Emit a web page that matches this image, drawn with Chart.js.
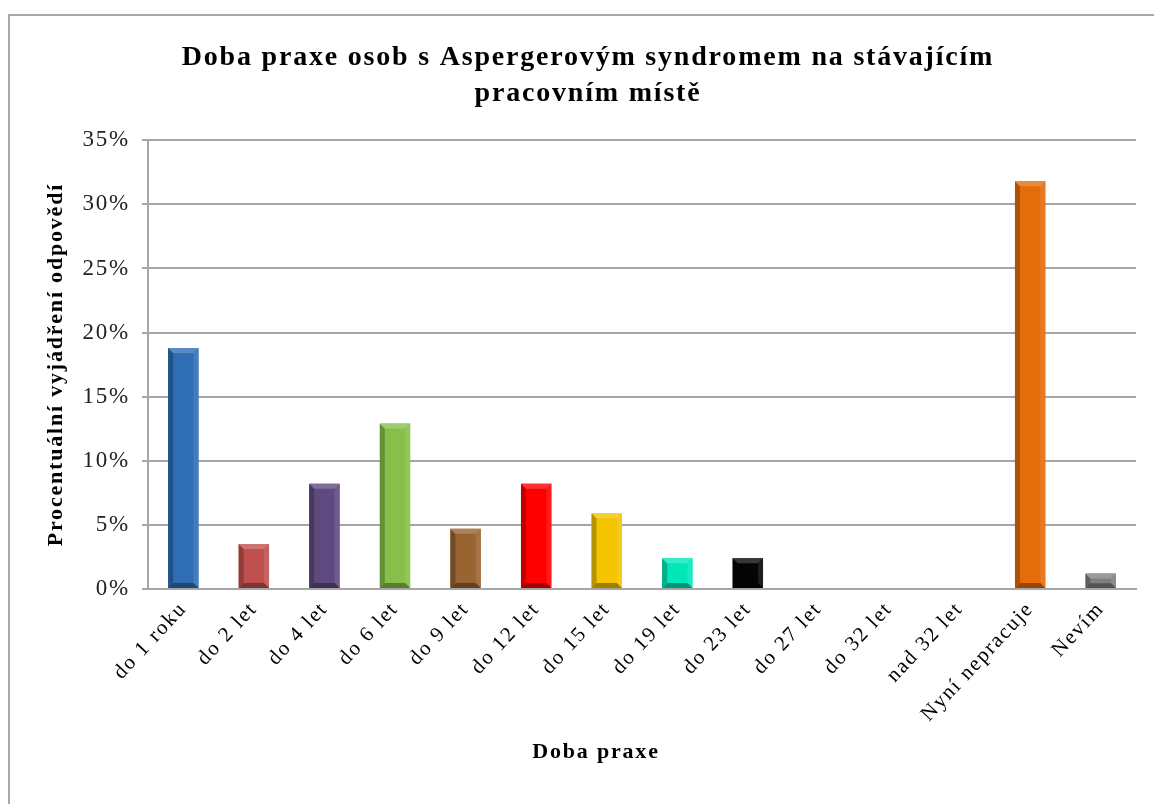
<!DOCTYPE html>
<html>
<head>
<meta charset="utf-8">
<script src="https://cdn.jsdelivr.net/npm/chart.js@4"></script>
<style>
  html, body { margin: 0; padding: 0; background: #fff; overflow: hidden; }
  #graph-container { position: relative; width: 1154px; height: 804px; }
</style>
</head>
<body>
<div id="graph-container">
  <canvas id="myChart" width="1154" height="804"></canvas>
</div>
<script>
// data (share of 85 answers)
const categories = ['do 1 roku', 'do 2 let', 'do 4 let', 'do 6 let', 'do 9 let', 'do 12 let',
    'do 15 let', 'do 19 let', 'do 23 let', 'do 27 let', 'do 32 let', 'nad 32 let',
    'Nyní nepracuje', 'Nevím']
const values = [18.8, 3.5, 8.2, 12.9, 4.7, 8.2, 5.9, 2.4, 2.4, 0, 0, 0, 31.8, 1.2]
const bar_colors = ['#2f6db5', '#c0504d', '#5f4a80', '#86c04a', '#9a6332', '#ff0000',
    '#f5c400', '#00e8b8', '#050505', '#888888', '#888888', '#888888', '#e46c0a', '#7f7f7f']
const y_ticks = [0, 5, 10, 15, 20, 25, 30, 35]

const title_lines = ['Doba praxe osob s Aspergerovým syndromem na stávajícím', 'pracovním místě']
const x_title = 'Doba praxe'
const y_title = 'Procentuální vyjádření odpovědí'

const SERIF = '"Liberation Serif", "Times New Roman", serif'
const LETTER_SPACING = '1.8px'

const shade = (hex, amt) => {
    let n = parseInt(hex.slice(1), 16)
    let r = (n >> 16) & 255, g = (n >> 8) & 255, b = n & 255
    const f = (c) => Math.max(0, Math.min(255, Math.round(amt < 0 ? c * (1 + amt) : c + (255 - c) * amt)))
    return `rgb(${f(r)}, ${f(g)}, ${f(b)})`
}

// the Word chart uses wide text, so space the letters a little
const spacingPlugin = {
    id: 'spacing',
    beforeUpdate(chart) { chart.ctx.letterSpacing = LETTER_SPACING },
    beforeLayout(chart) { chart.ctx.letterSpacing = LETTER_SPACING },
    beforeDraw(chart) { chart.ctx.letterSpacing = LETTER_SPACING }
}

// outer frame like the Word chart area + white background
const framePlugin = {
    id: 'frame',
    beforeDraw(chart) {
        const ctx = chart.ctx
        ctx.save()
        ctx.fillStyle = '#ffffff'
        ctx.fillRect(0, 0, chart.width, chart.height)
        ctx.strokeStyle = '#a8a8a8'
        ctx.lineWidth = 2
        ctx.beginPath()
        ctx.moveTo(9, chart.height + 5)
        ctx.lineTo(9, 15)
        ctx.lineTo(chart.width + 5, 15)
        ctx.stroke()
        ctx.restore()
    }
}

// x axis title sits a little left of the plot centre in the original
const xTitlePlugin = {
    id: 'xTitle',
    afterDraw(chart) {
        const ctx = chart.ctx
        ctx.save()
        ctx.font = `bold 22px ${SERIF}`
        ctx.fillStyle = '#000'
        ctx.textAlign = 'center'
        ctx.textBaseline = 'middle'
        ctx.fillText(x_title, 596, 752)
        ctx.restore()
    }
}

// bevel look on each bar
const bevelPlugin = {
    id: 'bevel',
    afterDatasetsDraw(chart) {
        const ctx = chart.ctx
        const meta = chart.getDatasetMeta(0)
        meta.data.forEach((bar, i) => {
            const h = bar.base - bar.y
            if (h < 1) return
            const c = bar_colors[i]
            const l = bar.x - bar.width / 2, r = bar.x + bar.width / 2
            const t = bar.y, b = bar.base
            const e = Math.min(5, h / 3)
            ctx.save()
            // left dark strip
            ctx.fillStyle = shade(c, -0.25)
            ctx.beginPath()
            ctx.moveTo(l, t); ctx.lineTo(l + e, t + e); ctx.lineTo(l + e, b - e); ctx.lineTo(l, b)
            ctx.fill()
            // right light strip
            ctx.fillStyle = shade(c, 0.1)
            ctx.beginPath()
            ctx.moveTo(r, t); ctx.lineTo(r - e, t + e); ctx.lineTo(r - e, b - e); ctx.lineTo(r, b)
            ctx.fill()
            // top light
            ctx.fillStyle = shade(c, 0.2)
            ctx.beginPath()
            ctx.moveTo(l, t); ctx.lineTo(r, t); ctx.lineTo(r - e, t + e); ctx.lineTo(l + e, t + e)
            ctx.fill()
            // bottom dark
            ctx.fillStyle = shade(c, -0.35)
            ctx.beginPath()
            ctx.moveTo(l, b); ctx.lineTo(r, b); ctx.lineTo(r - e, b - e); ctx.lineTo(l + e, b - e)
            ctx.fill()
            ctx.restore()
        })
    }
}

const data = {
    labels: categories,
    datasets: [
        {
            label: 'Doba praxe',
            data: values,
            backgroundColor: bar_colors,
            borderWidth: 0,
            barPercentage: 0.43,
            categoryPercentage: 1.0
        }
    ]
}

const config = {
    type: 'bar',
    data: data,
    plugins: [spacingPlugin, framePlugin, bevelPlugin, xTitlePlugin],
    options: {
        responsive: false,
        animation: false,
        devicePixelRatio: 1,
        layout: {
            padding: { left: 40, right: 18, top: 40, bottom: 38 }
        },
        plugins: {
            legend: { display: false },
            tooltip: { enabled: false },
            title: {
                display: true,
                text: title_lines,
                color: '#000',
                font: { family: SERIF, size: 28, weight: 'bold', lineHeight: 1.29 },
                padding: { top: 0, bottom: 28 }
            }
        },
        scales: {
            x: {
                grid: { display: false, drawTicks: false },
                border: { display: true, color: '#a6a6a6', width: 2 },
                ticks: {
                    color: '#000',
                    font: { family: SERIF, size: 21 },
                    maxRotation: 47,
                    minRotation: 47,
                    padding: 8,
                    autoSkip: false
                },
                title: { display: false },
                afterFit: (scale) => { scale.height = 177 }
            },
            y: {
                min: 0,
                max: 35,
                afterBuildTicks: (scale) => { scale.ticks = y_ticks.map(v => ({ value: v })) },
                grid: { color: '#a6a6a6', lineWidth: 2, tickLength: 6 },
                border: { display: true, color: '#a6a6a6', width: 2 },
                ticks: {
                    color: '#222',
                    font: { family: SERIF, size: 23 },
                    padding: 12,
                    callback: (v) => v + '%'
                },
                title: {
                    display: true,
                    text: y_title,
                    color: '#000',
                    font: { family: SERIF, size: 22, weight: 'bold' },
                    padding: { top: 3, bottom: 4 }
                },
                afterFit: (scale) => { scale.width = 108 }
            }
        }
    }
}

new Chart(document.querySelector('#myChart').getContext('2d'), config)
</script>
</body>
</html>
